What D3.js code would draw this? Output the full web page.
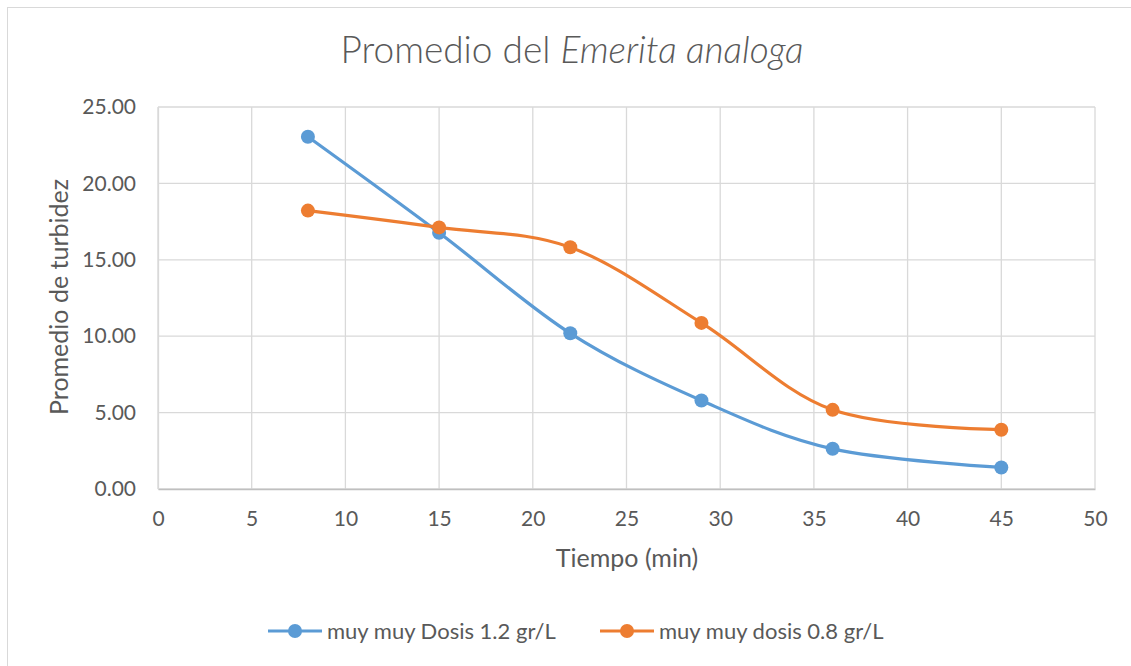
<!DOCTYPE html>
<html lang="es">
<head>
<meta charset="UTF-8" />
<title>Promedio del Emerita analoga</title>
<style>
  body { margin: 0; background: #fff; }
  text { font-family: Lato, "Open Sans", sans-serif; fill: #595959; }
</style>
</head>
<body>
<div id="wrapper"></div>
<script src="https://d3js.org/d3.v7.min.js"></script>
<script>
// datos
const tiempos = [8, 15, 22, 29, 36, 45];
const dosis12 = [23.05, 16.77, 10.19, 5.79, 2.63, 1.41];
const dosis08 = [18.22, 17.12, 15.82, 10.87, 5.18, 3.88];
const seriesNames = ["muy muy Dosis 1.2 gr/L", "muy muy dosis 0.8 gr/L"];
const seriesColors = ["#5B9BD5", "#ED7D31"];
const xTicks = [0, 5, 10, 15, 20, 25, 30, 35, 40, 45, 50];
const yTicks = [0, 5, 10, 15, 20, 25];

const W = 1131, H = 666;
const margin = {top: 107, right: 36, bottom: 177, left: 158};
const width = W - margin.left - margin.right,
      height = H - margin.top - margin.bottom;

const svg = d3.select("#wrapper").append("svg")
  .attr("width", W).attr("height", H);

// marco del grafico
svg.append("rect")
  .attr("x", 7.5).attr("y", 7.5)
  .attr("width", W + 20).attr("height", H + 20)
  .attr("fill", "none").attr("stroke", "#d9d9d9").attr("stroke-width", 1);

const g = svg.append("g")
  .attr("transform", "translate(" + margin.left + "," + margin.top + ")");

const x = d3.scaleLinear().domain([0, 50]).range([0, width]);
const y = d3.scaleLinear().domain([0, 25]).range([height, 0]);

// grid
g.append("g").selectAll("line").data(xTicks).enter().append("line")
  .attr("x1", d => x(d)).attr("x2", d => x(d))
  .attr("y1", 0).attr("y2", height)
  .attr("stroke", "#d9d9d9").attr("stroke-width", 1.3);
g.append("g").selectAll("line").data(yTicks).enter().append("line")
  .attr("x1", 0).attr("x2", width)
  .attr("y1", d => y(d)).attr("y2", d => y(d))
  .attr("stroke", "#d9d9d9").attr("stroke-width", 1.3);

// ejes
const xAxis = g.append("g")
  .attr("transform", "translate(0," + height + ")")
  .call(d3.axisBottom(x).tickValues(xTicks).tickSize(0).tickPadding(22).tickFormat(d3.format("d")));
const yAxis = g.append("g")
  .call(d3.axisLeft(y).tickValues(yTicks).tickSize(0).tickPadding(22).tickFormat(d3.format(".2f")));
[xAxis, yAxis].forEach(a => {
  a.attr("font-family", null);
  a.select(".domain").attr("stroke", "#bfbfbf").attr("stroke-width", 1.3);
  a.selectAll("text").style("font-size", "21px").attr("fill", "#595959");
});
yAxis.select(".domain").attr("stroke", "#d9d9d9");

// titulos
svg.append("text")
  .attr("x", 572).attr("y", 63)
  .attr("text-anchor", "middle")
  .style("font-size", "37px")
  .style("font-weight", 300)
  .call(t => {
    t.append("tspan").text("Promedio del ");
    t.append("tspan").style("font-style", "italic").text("Emerita analoga");
  });

svg.append("text")
  .attr("x", 627).attr("y", 567)
  .attr("text-anchor", "middle")
  .style("font-size", "25px")
  .text("Tiempo (min)");

svg.append("text")
  .attr("transform", "translate(68,297) rotate(-90)")
  .attr("text-anchor", "middle")
  .style("font-size", "25px")
  .text("Promedio de turbidez");

// series
const series = [dosis12, dosis08];
const line = d3.line()
  .x(d => x(d[0])).y(d => y(d[1]))
  .curve(d3.curveCatmullRom.alpha(0));

series.forEach((vals, i) => {
  const pts = tiempos.map((t, j) => [t, vals[j]]);
  g.append("path").datum(pts)
    .attr("d", line)
    .attr("fill", "none")
    .attr("stroke", seriesColors[i])
    .attr("stroke-width", 3.2)
    .attr("stroke-linecap", "round");
  g.append("g").selectAll("circle").data(pts).enter().append("circle")
    .attr("cx", d => x(d[0])).attr("cy", d => y(d[1]))
    .attr("r", 7)
    .attr("fill", seriesColors[i]);
});

// leyenda
const legendX = [268, 600];
const legend = svg.append("g");
seriesNames.forEach((name, i) => {
  const lg = legend.append("g").attr("transform", "translate(" + legendX[i] + ",631)");
  lg.append("line").attr("x1", 0).attr("x2", 54).attr("y1", 0).attr("y2", 0)
    .attr("stroke", seriesColors[i]).attr("stroke-width", 3.2);
  lg.append("circle").attr("cx", 27).attr("cy", 0).attr("r", 7).attr("fill", seriesColors[i]);
  lg.append("text").attr("x", 59).attr("y", 8)
    .style("font-size", "22px").text(name);
});
</script>
</body>
</html>
